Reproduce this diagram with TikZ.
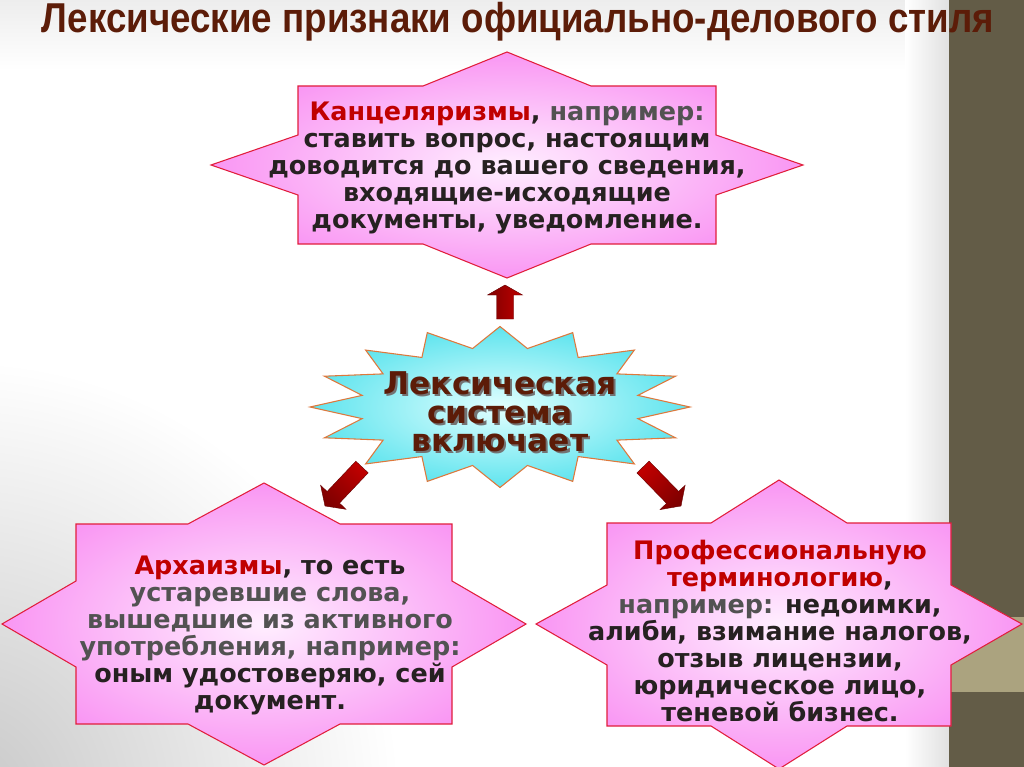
\documentclass[tikz,border=0pt]{standalone}
\usepackage{graphicx}
\usepackage{fontspec}
\setmainfont{DejaVu Sans}
\newfontfamily\titlefont[FakeStretch=0.88]{Liberation Sans}

\definecolor{stripdark}{RGB}{99,92,71}
\definecolor{stripband}{RGB}{171,163,127}
\definecolor{titlebrown}{RGB}{92,28,8}
\definecolor{starpink}{RGB}{249,150,243}
\definecolor{starwhite}{RGB}{255,238,255}
\definecolor{starred}{RGB}{225,30,60}
\definecolor{termred}{RGB}{192,0,0}
\definecolor{textdark}{RGB}{38,33,33}
\definecolor{textgray}{RGB}{82,82,82}
\definecolor{burstcyan}{RGB}{95,228,238}
\definecolor{burstwhite}{RGB}{225,255,255}
\definecolor{burstedge}{RGB}{222,120,60}

% testo con ombra
\newcommand\ombra[1]{\makebox[0pt][l]{\hspace{1.6pt}\raisebox{-1.6pt}{\textcolor{black!55}{#1}}}#1}

\begin{document}
\begin{tikzpicture}[x=0.75pt,y=-0.75pt,
  pinkstar/.style={draw=starred,line width=0.8pt,inner color=starwhite,outer color=starpink},
  burst/.style={draw=burstedge,line width=0.8pt,inner color=burstwhite,outer color=burstcyan},
  bodytext/.style={align=center,inner sep=0pt,text=textdark,
    font=\fontsize{19.1}{20.25}\selectfont\bfseries},
  lekstext/.style={align=center,inner sep=0pt,
    font=\fontsize{23.5}{21.4}\selectfont\bfseries},
  blockarrow/.style={draw=red!40!black,line width=0.3pt,
    left color=red!50!black,middle color=red,right color=red!75!black}]

  \useasboundingbox (0,0) rectangle (1024,767);

  % sfondo
  \fill[white] (0,0) rectangle (1024,767);
  \shade[top color=black!7,bottom color=white] (0,0) rectangle (949,70);
  \begin{scope}
    \clip (0,0) rectangle (949,767);
    \shade[inner color=black!22,outer color=white] (-40,800) circle (440);
  \end{scope}
  \shade[left color=white,right color=black!12] (905,0) rectangle (949,767);
  \fill[stripdark] (949,0) rectangle (1024,767);
  \fill[stripband] (949,617) rectangle (1024,692);

  \node[text=titlebrown,inner sep=0pt] (title) at (518,22)
    {\resizebox{714pt}{!}{\titlefont\bfseries Лексические признаки официально-делового стиля}};

  % stelle
  \draw[pinkstar] (507,52) -- (591,86) -- (716,86) -- (716,135) -- (803,165)
    -- (716,195) -- (716,244) -- (591,244) -- (507,278) -- (423,244)
    -- (298,244) -- (298,195) -- (211,165) -- (298,135) -- (298,86)
    -- (423,86) -- cycle;

  \draw[pinkstar] (264,483) -- (340,524) -- (452,524) -- (452,581) -- (526,624)
    -- (452,667) -- (452,724) -- (340,724) -- (264,765) -- (188,724)
    -- (76,724) -- (76,667) -- (2,624) -- (76,581) -- (76,524)
    -- (188,524) -- cycle;

  \draw[pinkstar] (779,480) -- (847,523) -- (951,523) -- (951,585) -- (1022,624)
    -- (951,665) -- (951,726) -- (847,726) -- (779,769) -- (711,726)
    -- (607,726) -- (607,665) -- (536,624) -- (607,585) -- (607,523)
    -- (711,523) -- cycle;

  \draw[burst,shift={(500,407)}] (0:190 and 80.5)
    \foreach \a in {0,22.5,...,337.5}{
      -- ({\a+11.25}:140.6 and 59.6) -- ({\a+22.5}:190 and 80.5)
    } -- cycle;

  % frecce
  \draw[blockarrow] (496.5,319) -- (496.5,295) -- (487.5,295) -- (505,285)
    -- (522.5,295) -- (513.5,295) -- (513.5,319) -- cycle;
  \draw[blockarrow,shading angle=136.5] (368.2,472.8) -- (339.5,503.1) -- (346.0,509.3)
    -- (325,506) -- (320.6,485.3) -- (327.1,491.5) -- (355.8,461.2) -- cycle;
  \draw[blockarrow,shading angle=-135.7] (649.1,461.1) -- (678.7,491.5) -- (685.1,485.2)
    -- (681,506) -- (660.1,509.6) -- (666.5,503.3) -- (636.9,472.9) -- cycle;

  % testi
  \node[bodytext] (kanc) at (507,168)
    {\textcolor{termred}{Канцеляризмы}, \textcolor{textgray}{например:}\\
     ставить вопрос, настоящим\\
     доводится до вашего сведения,\\
     входящие-исходящие\\
     документы, уведомление.};

  \node[bodytext] (arch) at (270,635)
    {\textcolor{termred}{Архаизмы}, то есть\\
     \textcolor{textgray}{устаревшие слова,}\\
     \textcolor{textgray}{вышедшие из активного}\\
     \textcolor{textgray}{употребления, например:}\\
     оным удостоверяю, сей\\
     документ.};

  \node[bodytext] (prof) at (780,631)
    {\textcolor{termred}{Профессиональную}\\
     \textcolor{termred}{терминологию},\\
     \textcolor{textgray}{например:} недоимки,\\
     алиби, взимание налогов,\\
     отзыв лицензии,\\
     юридическое лицо,\\
     теневой бизнес.};

  \node[lekstext,text=titlebrown] (sistema) at (500,413)
    {\ombra{Лексическая}\\\ombra{система}\\\ombra{включает}};
\end{tikzpicture}
\end{document}
